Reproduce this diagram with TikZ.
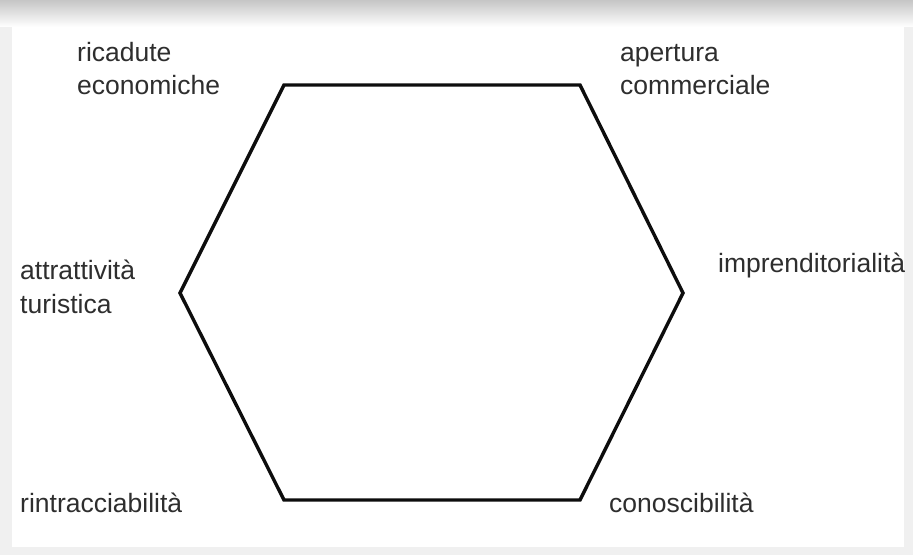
\documentclass[tikz,border=0pt]{standalone}
\usepackage{fontspec}
\setmainfont{Liberation Sans}
\begin{document}
\begin{tikzpicture}[x=1pt,y=1pt,
  lbl/.style={anchor=base west,inner sep=0pt,align=left,text=black!82,
    font=\fontsize{26.5}{33}\selectfont},
  hexline/.style={line width=3.4pt,line join=miter,black!95}]
% background frame
\fill[gray!12] (0,0) rectangle (913,555);
\shade[top color=gray!45,bottom color=white] (0,528) rectangle (913,555);
\fill[white] (12,8) rectangle (904,528);
\useasboundingbox (0,0) rectangle (913,555);
% hexagon vertices (image y flipped: Y = 555 - y)
\coordinate (tl) at (284,470);
\coordinate (tr) at (580,470);
\coordinate (r)  at (683,262);
\coordinate (br) at (580,55);
\coordinate (bl) at (284,55);
\coordinate (l)  at (180,262);
\draw[hexline] (tl) -- (tr) -- (r) -- (br) -- (bl) -- (l) -- cycle;
% labels (base = baseline of last line)
\node[lbl] (ric) at (77,460) {ricadute\\economiche};
\node[lbl] (ape) at (620,460) {apertura\\commerciale};
\node[lbl] (att) at (20,242) {attrattività\\turistica};
\node[lbl] (imp) at (718,282) {imprenditorialità};
\node[lbl] (rin) at (20,43) {rintracciabilità};
\node[lbl] (con) at (609,43) {conoscibilità};
\end{tikzpicture}
\end{document}
